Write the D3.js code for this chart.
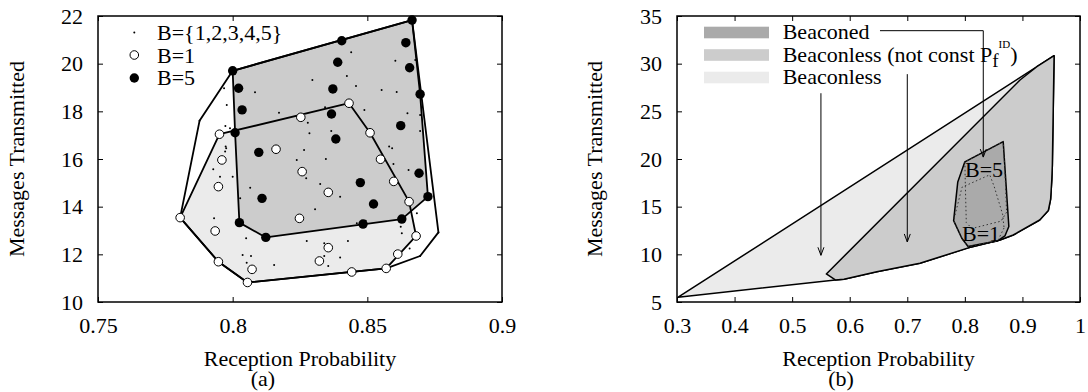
<!DOCTYPE html>
<html>
<head>
<meta charset="utf-8">
<script src="https://cdn.jsdelivr.net/npm/d3@7"></script>
<style>
  body { margin: 0; background: #fff; }
  svg text { font-family: "Liberation Serif", "Times New Roman", serif; font-size: 22px; fill: #000; }
  .tick line { stroke: #000; stroke-width: 1; }
</style>
</head>
<body>
<svg id="chart" width="1088" height="392"></svg>
<script>
// ---- panel (a) data: [reception probability, messages transmitted]
const xTicksA = [0.75, 0.8, 0.85, 0.9];
const yTicksA = [10, 12, 14, 16, 18, 20, 22];

// every configuration, B = 1..5
const dotsAll = [
  [0.7968,18.97],[0.7978,18.27],[0.7973,17.38],[0.799,17.29],[0.7972,16.31],[0.7976,16.45],
  [0.7928,15.57],[0.7953,15.26],[0.800,15.26],[0.8083,18.8],[0.8172,17.94],[0.8296,19.31],
  [0.8424,19.48],[0.844,20.48],[0.8458,19.06],[0.8553,18.9],[0.8604,20.12],[0.8609,18.81],
  [0.8678,20.15],[0.8489,18.06],[0.8649,17.92],[0.8696,17.85],[0.8696,17.17],[0.8279,17.52],
  [0.8285,17.08],[0.8343,18.17],[0.8366,17.17],[0.8265,16.38],[0.8581,16.52],[0.8592,16.45],
  [0.8346,16.0],[0.8238,15.96],[0.8273,15.19],[0.8325,14.95],[0.8597,15.79],[0.8653,15.54],
  [0.8065,14.79],[0.7974,16.52],[0.8399,14.42],[0.8028,14.35],[0.8306,13.89],[0.8461,13.3],
  [0.8494,13.41],[0.8684,13.72],[0.8624,13.16],[0.8628,12.88],[0.8657,12.25],[0.805,12.67],
  [0.8275,12.56],[0.834,12.46],[0.8428,12.56],[0.8037,11.97],[0.8068,11.93],[0.8052,11.65],
  [0.8154,11.55],[0.834,11.93],[0.8355,11.51],[0.8399,11.87],[0.7931,13.51],[0.7877,17.6],
  [0.8696,11.93],[0.8764,12.92]
];

// B = 1
const b1Pts = [
  [0.7951,17.04],[0.8253,17.75],[0.8432,18.34],[0.851,17.10],[0.8549,15.99],[0.8598,15.06],
  [0.8655,14.21],[0.8681,12.77],[0.8613,12.01],[0.857,11.41],[0.8442,11.26],[0.8055,10.82],
  [0.7947,11.69],[0.7805,13.54],[0.796,15.96],[0.7947,14.84],[0.7935,12.98],[0.8161,16.41],
  [0.8258,15.47],[0.8355,14.60],[0.8248,13.51],[0.8355,12.28],[0.8322,11.72],[0.8072,11.37]
];

// B = 5
const b5Pts = [
  [0.800,19.70],[0.8022,18.97],[0.8035,18.06],[0.8009,17.10],[0.8097,16.28],[0.8109,14.35],
  [0.8025,13.33],[0.8123,12.71],[0.8484,13.27],[0.8628,13.48],[0.8725,14.42],[0.8696,18.72],
  [0.8666,21.83],[0.8405,20.96],[0.8372,18.94],[0.8390,20.06],[0.8643,20.88],[0.8657,19.83],
  [0.8367,17.89],[0.8383,16.84],[0.8624,17.40],[0.8692,15.40],[0.8474,15.01],[0.8523,14.11]
];

// ---- panel (b) data
const xTicksB = [0.3, 0.4, 0.5, 0.6, 0.7, 0.8, 0.9, 1];
const yTicksB = [5, 10, 15, 20, 25, 30, 35];

// shared lower / right boundary of both beaconless regions
const lowerEdge = [
  [0.575,7.31],[0.59,7.38],[0.647,8.18],[0.722,9.06],[0.806,10.68],[0.861,11.5],
  [0.884,12.03],[0.93,13.6],[0.945,14.6],[0.949,15.8],[0.951,17.8],[0.952,19.4],[0.955,30.84]
];
const beaconlessPoly = [[0.302,5.5], ...lowerEdge];
const notConstPoly = [[0.5594,7.94], ...lowerEdge, [0.925,29.68], [0.8958,28.29]];

const legendB = ["Beaconed", "Beaconless (not const P", "Beaconless"];
const fillsB = ["#aaaaaa", "#cccccc", "#ebebeb"];

// arrows: elbow from "Beaconed", then [x, yStart, yEnd] drops
const elbowArrow = [[0.6526,33.46],[0.832,33.46],[0.832,20.2]];
const dropArrows = [[0.7,28.9,11.3],[0.55,26.9,9.9]];

const svg = d3.select("#chart");

const xA = d3.scaleLinear().domain([0.75, 0.9]).range([98, 502]);
const yA = d3.scaleLinear().domain([10, 22]).range([302, 16]);
const xB = d3.scaleLinear().domain([0.3, 1]).range([677, 1080]);
const yB = d3.scaleLinear().domain([5, 35]).range([302, 16]);

function frame(x, y, xt, yt, title, tag, tagX, yTitleX) {
  const g = svg.append("g");
  const [x0, x1] = x.range(), [y0, y1] = y.range();
  const fmt = d => String(d);
  g.append("g").attr("transform", `translate(0,${y0})`)
    .call(d3.axisBottom(x).tickValues(xt).tickSize(-5).tickPadding(15).tickFormat(fmt));
  g.append("g").attr("transform", `translate(0,${y1})`)
    .call(d3.axisTop(x).tickValues(xt).tickSize(-5).tickFormat(""));
  g.append("g").attr("transform", `translate(${x0},0)`)
    .call(d3.axisLeft(y).tickValues(yt).tickSize(-5).tickPadding(15).tickFormat(fmt));
  g.append("g").attr("transform", `translate(${x1},0)`)
    .call(d3.axisRight(y).tickValues(yt).tickSize(-5).tickFormat(""));
  g.selectAll(".domain").remove();
  g.selectAll("g").attr("font-family", null).attr("font-size", null);
  g.append("rect").attr("x", x0).attr("y", y1).attr("width", x1 - x0).attr("height", y0 - y1)
    .attr("fill", "none").attr("stroke", "#000").attr("stroke-width", 1.5);
  g.append("text").attr("x", (x0 + x1) / 2).attr("y", 366).attr("text-anchor", "middle").text(title);
  g.append("text").attr("x", tagX).attr("y", 386).attr("text-anchor", "middle").text(tag);
  g.append("text").attr("transform", `translate(${yTitleX},${(y0 + y1) / 2}) rotate(-90)`)
    .attr("text-anchor", "middle").text("Messages Transmitted");
  return g;
}

// ---------- panel (a)
const lineA = d3.line().x(d => xA(d[0])).y(d => yA(d[1])).curve(d3.curveLinearClosed);
const hull1 = d3.polygonHull(b1Pts);
const hull5 = d3.polygonHull(b5Pts);
const hullAll = d3.polygonHull([...dotsAll, ...b1Pts, ...b5Pts]);

const pa = svg.append("g");
pa.append("path").attr("d", lineA(hull1)).attr("fill", "#ebebeb");
pa.append("path").attr("d", lineA(hull5)).attr("fill", "#cccccc");
[hull1, hull5, hullAll].forEach(h =>
  pa.append("path").attr("d", lineA(h)).attr("fill", "none")
    .attr("stroke", "#000").attr("stroke-width", 1.8).attr("stroke-linejoin", "round"));

pa.selectAll(".dot").data(dotsAll).join("circle")
  .attr("cx", d => xA(d[0])).attr("cy", d => yA(d[1])).attr("r", 1).attr("fill", "#000");
pa.selectAll(".b1").data(b1Pts).join("circle")
  .attr("cx", d => xA(d[0])).attr("cy", d => yA(d[1])).attr("r", 4.3)
  .attr("fill", "#fff").attr("stroke", "#000").attr("stroke-width", 1);
pa.selectAll(".b5").data(b5Pts).join("circle")
  .attr("cx", d => xA(d[0])).attr("cy", d => yA(d[1])).attr("r", 4.7).attr("fill", "#000");

frame(xA, yA, xTicksA, yTicksA, "Reception Probability", "(a)", 263, 24);

// legend (a)
const legA = svg.append("g");
legA.append("circle").attr("cx", 134.3).attr("cy", 32.5).attr("r", 1).attr("fill", "#000");
legA.append("circle").attr("cx", 134.3).attr("cy", 55).attr("r", 4.3)
  .attr("fill", "#fff").attr("stroke", "#000");
legA.append("circle").attr("cx", 134.3).attr("cy", 78).attr("r", 4.7).attr("fill", "#000");
["B={1,2,3,4,5}", "B=1", "B=5"].forEach((t, i) =>
  legA.append("text").attr("x", 157).attr("y", 40 + i * 22.5).text(t));

// ---------- panel (b)
const lineB = d3.line().x(d => xB(d[0])).y(d => yB(d[1])).curve(d3.curveLinearClosed);
const pb = svg.append("g");
pb.append("path").attr("d", lineB(beaconlessPoly)).attr("fill", fillsB[2])
  .attr("stroke", "#000").attr("stroke-width", 1.5).attr("stroke-linejoin", "round");
pb.append("path").attr("d", lineB(notConstPoly)).attr("fill", fillsB[1])
  .attr("stroke", "#000").attr("stroke-width", 1.5).attr("stroke-linejoin", "round");
pb.append("path").attr("d", lineB(hullAll)).attr("fill", fillsB[0])
  .attr("stroke", "#000").attr("stroke-width", 1.5).attr("stroke-linejoin", "round");
[hull5, hull1].forEach(h =>
  pb.append("path").attr("d", lineB(h)).attr("fill", "none")
    .attr("stroke", "#333").attr("stroke-width", 1).attr("stroke-dasharray", "1.5,2.5"));
pb.append("text").attr("x", xB(0.8003)).attr("y", yB(18.1)).text("B=5");
pb.append("text").attr("x", xB(0.795)).attr("y", yB(11.45)).text("B=1");

frame(xB, yB, xTicksB, yTicksB, "Reception Probability", "(b)", 841, 602);

// legend (b)
const legB = svg.append("g");
legendB.forEach((t, i) => {
  legB.append("rect").attr("x", 704).attr("y", 26.7 + i * 22.5).attr("width", 65).attr("height", 11.6)
    .attr("fill", fillsB[i]);
  const tx = legB.append("text").attr("x", 782.7).attr("y", 39 + i * 22.5).text(t);
  if (i === 1) {
    tx.append("tspan").attr("dy", 5).attr("font-size", 19).text("f");
    tx.append("tspan").attr("dy", -19).attr("font-size", 11).text("ID");
    tx.append("tspan").attr("dy", 14).text(")");
  }
});

// arrows
function head(g, x, y) {
  g.append("path").attr("d", `M${x - 3},${y - 8}L${x},${y}L${x + 3},${y - 8}`)
    .attr("fill", "none").attr("stroke", "#000").attr("stroke-width", 1);
}
const arr = svg.append("g");
arr.append("path").attr("d", d3.line().x(d => xB(d[0])).y(d => yB(d[1]))(elbowArrow))
  .attr("fill", "none").attr("stroke", "#000").attr("stroke-width", 1);
head(arr, xB(elbowArrow[2][0]), yB(elbowArrow[2][1]));
dropArrows.forEach(a => {
  arr.append("line").attr("x1", xB(a[0])).attr("x2", xB(a[0]))
    .attr("y1", yB(a[1])).attr("y2", yB(a[2])).attr("stroke", "#000").attr("stroke-width", 1);
  head(arr, xB(a[0]), yB(a[2]));
});
</script>
</body>
</html>
